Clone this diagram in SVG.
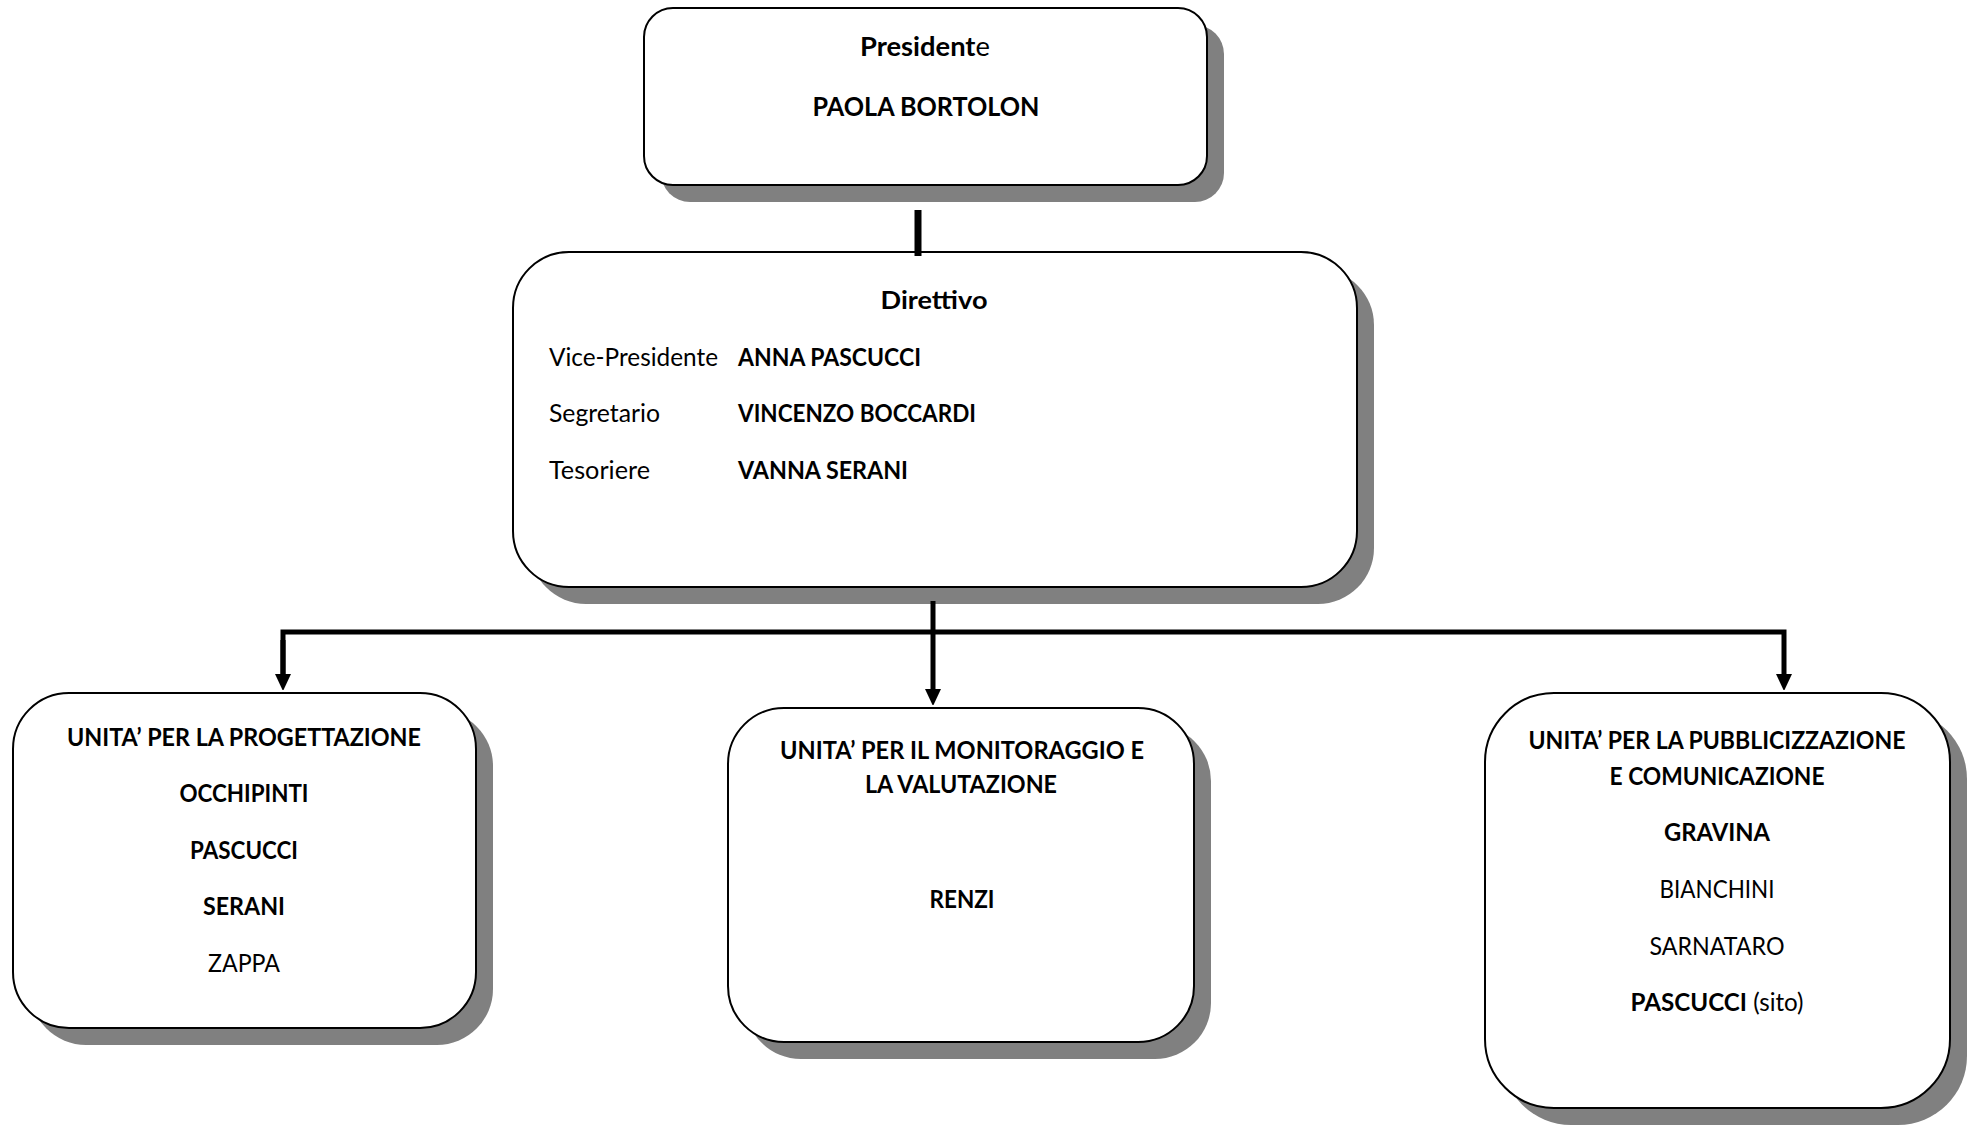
<svg xmlns="http://www.w3.org/2000/svg" width="1975" height="1125" viewBox="0 0 1975 1125">
<style>
.shadow{fill:#808080}
.box{fill:#fff;stroke:#000;stroke-width:2}
.t{font-family:Lato,"Open Sans",sans-serif;font-size:24.3px;fill:#000}
.tp{font-size:26.5px}
.b{font-weight:bold}
.n{font-weight:normal}
.c{text-anchor:middle}
.conn{stroke:#000;fill:none;stroke-width:5}
.stub{stroke:#000;fill:none;stroke-width:7}
</style>
<defs>
<marker id="arr" markerUnits="userSpaceOnUse" markerWidth="16" markerHeight="17" refX="2" refY="8" orient="auto">
<path d="M0,0 L17,8 L0,16 z" fill="#000"/>
</marker>
</defs>
<rect width="1975" height="1125" fill="#fff"/>

<g id="presidente">
<rect class="shadow" x="661" y="25" width="563" height="177" rx="29"/>
<rect class="box" x="644" y="8" width="563" height="177" rx="29"/>
<text class="t tp b c" x="925" y="56" textLength="130" lengthAdjust="spacingAndGlyphs">Presiden<tspan>t</tspan><tspan class="n">e</tspan></text>
<text class="t tp b c" x="926" y="116" textLength="227" lengthAdjust="spacingAndGlyphs">PAOLA BORTOLON</text>
</g>

<g id="direttivo">
<rect class="shadow" x="530" y="269" width="844" height="335" rx="56"/>
<rect class="box" x="513" y="252" width="844" height="335" rx="56"/>
<text class="t b c" x="934" y="308.5" textLength="107" lengthAdjust="spacingAndGlyphs">Direttivo</text>
<text class="t" x="549" y="366" textLength="169" lengthAdjust="spacingAndGlyphs">Vice-Presidente</text>
<text class="t b" x="738" y="366" textLength="183" lengthAdjust="spacingAndGlyphs">ANNA PASCUCCI</text>
<text class="t" x="549" y="421.5" textLength="111" lengthAdjust="spacingAndGlyphs">Segretario</text>
<text class="t b" x="738" y="421.5" textLength="238" lengthAdjust="spacingAndGlyphs">VINCENZO BOCCARDI</text>
<text class="t" x="549" y="478.5" textLength="101" lengthAdjust="spacingAndGlyphs">Tesoriere</text>
<text class="t b" x="738" y="478.5" textLength="170" lengthAdjust="spacingAndGlyphs">VANNA SERANI</text>
</g>

<g id="unita-progettazione">
<rect class="shadow" x="30" y="710" width="463" height="335" rx="56"/>
<rect class="box" x="13" y="693" width="463" height="335" rx="56"/>
<text class="t b c" x="244" y="745.5" textLength="354" lengthAdjust="spacingAndGlyphs">UNITA’ PER LA PROGETTAZIONE</text>
<text class="t b c" x="244" y="802" textLength="129" lengthAdjust="spacingAndGlyphs">OCCHIPINTI</text>
<text class="t b c" x="244" y="858.5" textLength="108" lengthAdjust="spacingAndGlyphs">PASCUCCI</text>
<text class="t b c" x="244" y="915" textLength="82" lengthAdjust="spacingAndGlyphs">SERANI</text>
<text class="t c" x="244" y="972" textLength="72" lengthAdjust="spacingAndGlyphs">ZAPPA</text>
</g>

<g id="unita-monitoraggio">
<rect class="shadow" x="745" y="725" width="466" height="334" rx="56"/>
<rect class="box" x="728" y="708" width="466" height="334" rx="56"/>
<text class="t b c" x="962" y="759" textLength="364" lengthAdjust="spacingAndGlyphs">UNITA’ PER IL MONITORAGGIO E</text>
<text class="t b c" x="961" y="793" textLength="192" lengthAdjust="spacingAndGlyphs">LA VALUTAZIONE</text>
<text class="t b c" x="962" y="907.5" textLength="65" lengthAdjust="spacingAndGlyphs">RENZI</text>
</g>

<g id="unita-pubblicizzazione">
<rect class="shadow" x="1502" y="710" width="465" height="415" rx="69"/>
<rect class="box" x="1485" y="693" width="465" height="415" rx="69"/>
<text class="t b c" x="1717" y="749" textLength="377" lengthAdjust="spacingAndGlyphs">UNITA’ PER LA PUBBLICIZZAZIONE</text>
<text class="t b c" x="1717" y="784.5" textLength="215" lengthAdjust="spacingAndGlyphs">E COMUNICAZIONE</text>
<text class="t b c" x="1717" y="841" textLength="106" lengthAdjust="spacingAndGlyphs">GRAVINA</text>
<text class="t c" x="1717" y="897.5" textLength="115" lengthAdjust="spacingAndGlyphs">BIANCHINI</text>
<text class="t c" x="1717" y="954.5" textLength="135" lengthAdjust="spacingAndGlyphs">SARNATARO</text>
<text class="t c" x="1717" y="1011" textLength="173" lengthAdjust="spacingAndGlyphs"><tspan class="b">PASCUCCI</tspan> (sito)</text>
</g>

<g id="connectors">
<line class="stub" x1="918" y1="210" x2="918" y2="256"/>
<polyline class="conn" points="283,676 283,632 1784,632 1784,676" marker-end="url(#arr)"/>
<line class="conn" x1="283" y1="640" x2="283" y2="676" marker-end="url(#arr)"/>
<line class="conn" x1="933" y1="601" x2="933" y2="691" marker-end="url(#arr)"/>
</g>
</svg>
